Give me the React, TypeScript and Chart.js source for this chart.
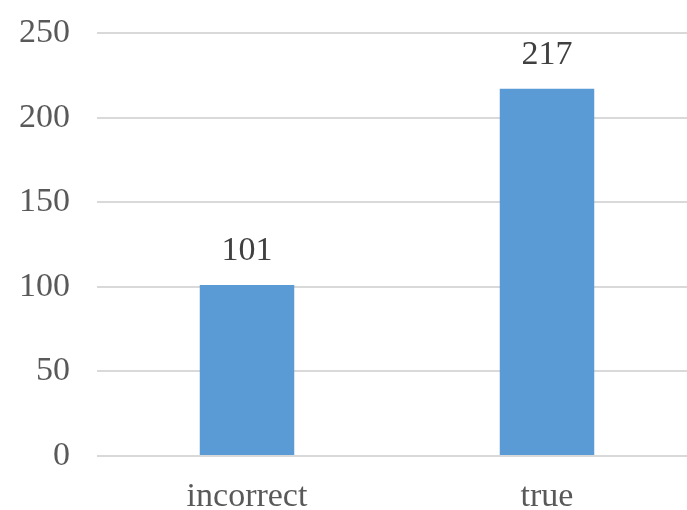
import React, { useEffect, useRef } from "react";
import { Chart, registerables } from "chart.js";

Chart.register(...registerables);

const categories = ["incorrect", "true"];
const counts = [101, 217];
const yTicks = [0, 50, 100, 150, 200, 250];

const FONT = "'Liberation Serif', 'Times New Roman', serif";
const FONT_SIZE = 34;

const valueLabels = {
  id: "valueLabels",
  afterDatasetsDraw(chart: any) {
    const { ctx } = chart;
    const meta = chart.getDatasetMeta(0);
    ctx.save();
    ctx.font = `${FONT_SIZE}px ${FONT}`;
    ctx.fillStyle = "#404040";
    ctx.textAlign = "center";
    ctx.textBaseline = "middle";
    meta.data.forEach((bar: any, i: number) => {
      ctx.fillText(String(counts[i]), bar.x, bar.y - 34);
    });
    ctx.restore();
  },
};

export default function App() {
  const canvasRef = useRef<HTMLCanvasElement | null>(null);

  useEffect(() => {
    if (!canvasRef.current) return;
    const chart = new Chart(canvasRef.current, {
      type: "bar",
      data: {
        labels: categories,
        datasets: [
          {
            data: counts,
            backgroundColor: "#5B9BD5",
            borderWidth: 0,
            barPercentage: 0.315,
            categoryPercentage: 1,
          },
        ],
      },
      options: {
        responsive: false,
        animation: false,
        layout: { padding: { top: 33, left: 0, right: 0, bottom: 0 } },
        plugins: {
          legend: { display: false },
          tooltip: { enabled: false },
        },
        scales: {
          x: {
            grid: { display: false, drawTicks: false },
            border: { display: false },
            ticks: {
              color: "#595959",
              font: { family: FONT, size: FONT_SIZE },
              padding: 21,
            },
            afterFit(scale: any) {
              scale.height = 54;
              scale.paddingLeft = 0;
              scale.paddingRight = 0;
            },
          },
          y: {
            min: 0,
            max: 250,
            afterBuildTicks(scale: any) {
              scale.ticks = yTicks.map((v) => ({ value: v }));
            },
            grid: { color: "#d9d9d9", lineWidth: 2, drawTicks: false },
            border: { display: false },
            ticks: {
              color: "#595959",
              font: { family: FONT, size: FONT_SIZE },
              padding: 27,
            },
            afterFit(scale: any) {
              scale.width = 97;
              scale.paddingTop = 0;
              scale.paddingBottom = 0;
            },
          },
        },
      },
      plugins: [valueLabels],
    });
    return () => chart.destroy();
  }, []);

  return (
    <div
      style={{
        position: "fixed",
        left: 0,
        top: 0,
        width: 687,
        height: 510,
        overflow: "hidden",
        background: "#ffffff",
      }}
    >
      <canvas ref={canvasRef} width={697} height={510} style={{ display: "block" }} />
    </div>
  );
}
